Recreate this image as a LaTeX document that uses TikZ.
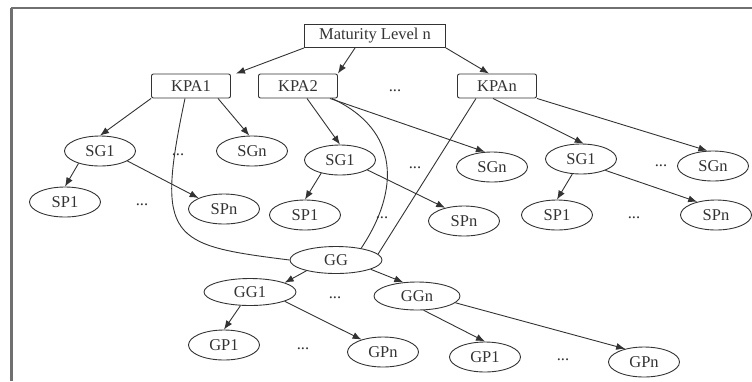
\documentclass[tikz,border=0pt]{standalone}
\usepackage{fontspec}
\setmainfont{Liberation Serif}
\usepackage{tikz}
\usetikzlibrary{arrows.meta,shapes.geometric}
\definecolor{ink}{HTML}{333333}
\definecolor{frame}{HTML}{707070}
\tikzset{%
	level/.style = {draw=ink, rectangle, line width=0.9pt, minimum width=141pt, minimum height=23pt, inner sep=0pt, text centered},
	kpa/.style   = {draw=ink, rectangle, line width=0.9pt, rounded corners=2pt, minimum width=79pt, minimum height=24pt, inner sep=0pt, text centered},
	goal/.style  = {draw=ink, ellipse, line width=0.9pt, minimum width=71pt, minimum height=30pt, inner sep=0pt, text centered},
	gen/.style   = {goal, minimum width=92pt, minimum height=27pt},
	arrow/.style = {draw=ink, line width=0.9pt, -{Latex[length=9pt,width=7pt]}},
	link/.style  = {draw=ink, line width=0.9pt},
}
\begin{document}
\begin{tikzpicture}[x=1pt,y=-1pt,font=\fontsize{16.5}{19}\selectfont,text=ink]
	\useasboundingbox (0,0) rectangle (752,381);
	\draw[frame, line width=2pt] (11,8) -- (752,8);  % frame
	\draw[frame, line width=3pt] (11.5,8) -- (11.5,381);
	
	% maturity level and KPAs
	\node[level] (ml) at (375,36) {Maturity Level n};
	\node[kpa] (kpa1) at (191,86) {KPA1};
	\node[kpa] (kpa2) at (298,86) {KPA2};
	\node (d1) at (395,91) {...};
	\node[kpa] (kpan) at (497,86) {KPAn};
	
	% specific goals
	\node[goal] (sg1a) at (100,151) {SG1};
	\node (d2) at (178,155) {...};
	\node[goal] (sgna) at (252,151) {SGn};
	\node[goal] (sg1b) at (340,160) {SG1};
	\node (d3) at (415,168) {...};
	\node[goal] (sgnb) at (492,167) {SGn};
	\node[goal] (sg1c) at (581,159) {SG1};
	\node (d4) at (661,166) {...};
	\node[goal] (sgnc) at (713,166) {SGn};
	
	% specific practices
	\node[goal] (sp1a) at (65,202) {SP1};
	\node (d5) at (142,205) {...};
	\node[goal] (spna) at (224,209) {SPn};
	\node[goal] (sp1b) at (305,215) {SP1};
	\node (d6) at (382,218) {...};
	\node[goal] (spnb) at (464,221) {SPn};
	\node[goal] (sp1c) at (557,215) {SP1};
	\node (d7) at (634,218) {...};
	\node[goal] (spnc) at (716,215) {SPn};
	
	% generic goals and practices
	\node[gen] (gg) at (336,260) {GG};
	\node[gen] (gg1) at (250,292) {GG1};
	\node (d8) at (335,298) {...};
	\node[gen, minimum width=86pt, minimum height=28pt] (ggn) at (417,296) {GGn};
	\node[goal] (gp1a) at (224,345) {GP1};
	\node (d9) at (303,349) {...};
	\node[goal] (gpna) at (383,352) {GPn};
	\node[goal] (gp1b) at (485,357) {GP1};
	\node (d10) at (563,360) {...};
	\node[goal] (gpnb) at (644,362) {GPn};
	
	% arrows
	\draw[arrow] (ml.south west) -- ([xshift=5pt]kpa1.north east);
	\draw[arrow] ([xshift=-20pt]ml.south) -- (kpa2.north east);
	\draw[arrow] (ml.south east) -- ([xshift=-8pt]kpan.north);
	\draw[arrow] (kpa1.south west) -- (sg1a.north);
	\draw[arrow] ([xshift=27pt]kpa1.south) -- (sgna.100);
	\draw[arrow] ([xshift=9pt]kpa2.south) -- (sg1b.north);
	\draw[arrow] ([xshift=-8pt]kpa2.south east) -- (sgnb.115);
	\draw[arrow] ([xshift=-4pt]kpan.south) -- (sg1c.80);
	\draw[arrow] (kpan.south east) -- (sgnc.110);
	\draw[arrow] (sg1a.210) -- (sp1a.north);
	\draw[arrow] (sg1a.-20) -- (spna.north west);
	\draw[arrow] (sg1b.215) -- (sp1b.north);
	\draw[arrow] (sg1b.-20) -- (spnb.145);
	\draw[arrow] (sg1c.240) -- (sp1c.north);
	\draw[arrow] (sg1c.-25) -- (spnc.145);
	\draw[arrow] (gg.200) -- (gg1.15);
	\draw[arrow] (gg.-15) -- (ggn.135);
	\draw[arrow] (gg1.235) -- (gp1a.north);
	\draw[arrow] (gg1.-15) -- (gpna.150);
	\draw[arrow] (ggn.-65) -- (gp1b.north);
	\draw[arrow] (ggn.-10) -- (gpnb.145);
	
	% links to GG
	\draw[link] ([xshift=-6pt]kpa1.south) .. controls (155,240) and (170,245) .. (gg.west);
	\draw[link] ([xshift=-6pt]kpa2.south east) .. controls (400,130) and (400,190) .. (gg.25);
	\draw[link] ([xshift=-21pt]kpan.south) -- (gg.8);
\end{tikzpicture}
\end{document}
